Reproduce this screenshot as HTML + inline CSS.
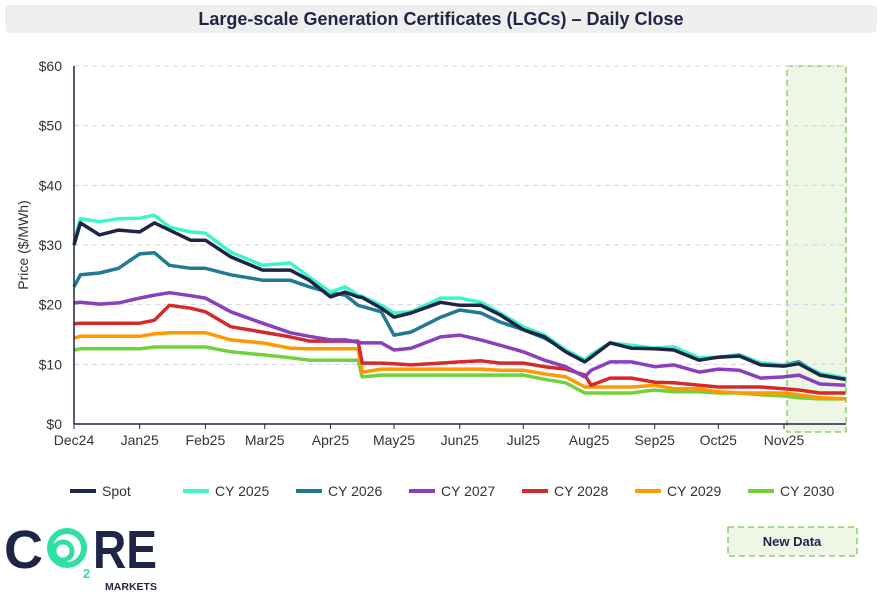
<!DOCTYPE html>
<html><head><meta charset="utf-8">
<style>
body{margin:0;background:#fff;font-family:"Liberation Sans",Arial,sans-serif;}
#wrap{position:relative;width:883px;height:600px;overflow:hidden;}
</style></head>
<body>
<div id="wrap">
<svg id="chart" width="883" height="600" xmlns="http://www.w3.org/2000/svg">
  <rect x="5" y="5" width="872" height="28" rx="5" fill="#efefef"/>
  <text x="441" y="25" text-anchor="middle" font-size="18" font-weight="bold" fill="#1f2547">Large-scale Generation Certificates (LGCs) – Daily Close</text>
  <text transform="translate(28,245) rotate(-90)" text-anchor="middle" font-size="14" fill="#333">Price ($/MWh)</text>
  <rect x="787" y="66" width="59" height="366" fill="#eef7e6" stroke="#7cc653" stroke-width="1.3" stroke-dasharray="6,4"/>
  <g id="grid"></g>
  <g id="series"></g>
  <g id="axes"></g>
  <g id="legend"></g>
  <rect x="728" y="527" width="129" height="29" fill="#eef7e6" stroke="#7cc653" stroke-width="1.3" stroke-dasharray="6,4"/>
  <text x="792" y="546" text-anchor="middle" font-size="13" font-weight="bold" fill="#1f2547">New Data</text>
  <g>
    <text x="4" y="568" font-size="54" font-weight="bold" fill="#1f2547">C</text>
    <circle cx="67" cy="548" r="17" fill="none" stroke="#2ee0a5" stroke-width="6"/>
    <circle cx="63" cy="551" r="9" fill="none" stroke="#2ee0a5" stroke-width="5"/>
    <text x="83" y="578" font-size="13" font-weight="bold" fill="#2ee0a5">2</text>
    <text x="93" y="568" font-size="54" font-weight="bold" fill="#1f2547" textLength="64" lengthAdjust="spacingAndGlyphs">RE</text>
    <text x="105" y="590" font-size="10.5" font-weight="bold" fill="#1f2547" textLength="52">MARKETS</text>
  </g>
</svg>
</div>
<script>
const days = [0,3,12,21,31,38,45,55,62,74,89,102,111,121,128,134,136,145,151,159,173,182,192,201,212,222,232,241,244,253,263,274,283,295,304,314,324,335,342,352,364];
const spot   = [30,33.7,31.7,32.5,32.2,33.7,32.5,30.8,30.8,28,25.8,25.8,24.1,21.3,22.1,21.3,21.2,19.4,17.9,18.6,20.4,19.9,19.9,18.3,15.8,14.6,12.1,10.4,11.2,13.6,12.7,12.6,12.4,10.7,11.2,11.4,9.9,9.7,10.1,8.2,7.5];
const cy2025 = [30.5,34.4,33.9,34.4,34.5,35.0,33.0,32.2,32.0,28.8,26.6,27.0,24.6,22.1,23.0,21.6,21.4,19.9,18.6,18.8,21.1,21.1,20.4,18.6,16.3,14.9,12.4,10.7,11.6,13.6,13.2,12.7,12.9,11.1,11.2,11.6,10.2,9.9,10.2,8.5,7.7];
const cy2026 = [23,25,25.3,26.1,28.5,28.7,26.6,26.1,26.1,25,24.1,24.1,23,22,21.6,19.9,19.7,18.8,14.9,15.4,17.9,19.1,18.6,17.1,15.8,14.4,12.4,10.7,11.6,13.6,12.9,12.7,12.9,10.9,11.2,11.6,10.2,9.9,10.4,8.2,7.5];
const cy2027 = [20.3,20.4,20.1,20.3,21.1,21.6,22,21.5,21.1,18.8,16.9,15.3,14.7,14.1,14.1,13.7,13.6,13.6,12.4,12.7,14.6,14.9,14.1,13.2,12.1,10.7,9.6,7.9,9,10.4,10.4,9.6,9.9,8.7,9.2,9,7.7,7.9,8.2,6.7,6.5];
const cy2028 = [16.8,16.9,16.9,16.9,16.9,17.4,19.9,19.4,18.8,16.3,15.4,14.6,13.9,13.9,13.9,13.9,10.2,10.2,10.1,9.9,10.2,10.4,10.6,10.2,10.2,9.6,9.2,8.2,6.5,7.7,7.7,7,6.9,6.5,6.2,6.2,6.2,5.9,5.7,5.2,5.2];
const cy2029 = [14.4,14.7,14.7,14.7,14.7,15.1,15.3,15.3,15.3,14.1,13.6,12.7,12.6,12.6,12.6,12.6,8.7,9.2,9.2,9.2,9.2,9.2,9.2,9.0,9.0,8.4,7.9,6.2,6.2,6.2,6.2,6.5,5.9,5.9,5.4,5.2,5.2,5.2,4.9,4.4,4.2];
const cy2030 = [12.4,12.6,12.6,12.6,12.6,12.9,12.9,12.9,12.9,12.1,11.6,11.1,10.7,10.7,10.7,10.7,7.9,8.2,8.2,8.2,8.2,8.2,8.2,8.2,8.2,7.5,6.9,5.2,5.2,5.2,5.2,5.7,5.4,5.4,5.2,5.2,4.9,4.7,4.4,4.2,4.2];
const yTicks = [0,10,20,30,40,50,60];
const xLabels = ["Dec24","Jan25","Feb25","Mar25","Apr25","May25","Jun25","Jul25","Aug25","Sep25","Oct25","Nov25"];
const xLabelDays = [0,31,62,90,121,151,182,212,243,274,304,335];
const seriesNames = ["Spot","CY 2025","CY 2026","CY 2027","CY 2028","CY 2029","CY 2030"];
const seriesData = [spot,cy2025,cy2026,cy2027,cy2028,cy2029,cy2030];
const colors = ["#1f2547","#3cf5c8","#217a94","#8a3fbf","#d42a2a","#ff9900","#72d03c"];

const NS="http://www.w3.org/2000/svg";
const X0=74, X1=846, Y0=424, Y1=66;
function xs(d){return X0 + d*(784-74)/335;}
function ys(v){return Y0 - v*(Y0-Y1)/60;}
function mk(tag,attrs,parent){const e=document.createElementNS(NS,tag);for(const k in attrs)e.setAttribute(k,attrs[k]);parent.appendChild(e);return e;}
const grid=document.getElementById('grid'), axes=document.getElementById('axes'), ser=document.getElementById('series'), leg=document.getElementById('legend');
yTicks.forEach(v=>{
  if(v>0){const l=mk('line',{x1:X0,x2:X1,y1:ys(v),y2:ys(v),stroke:'#d3d3e6','stroke-dasharray':'5,4','stroke-width':1},grid);
  
  }
  const t=mk('text',{x:62,y:ys(v)+5,'text-anchor':'end','font-size':14,fill:'#333'},axes);
  t.textContent='$'+v;
  
  
});
const ax=mk('line',{x1:X0,x2:X0,y1:Y1,y2:Y0,stroke:'#1f2547','stroke-width':1.5},axes);


const bx=mk('line',{x1:X0,x2:X1,y1:Y0,y2:Y0,stroke:'#1f2547','stroke-width':1.5},axes);


xLabels.forEach((lab,i)=>{
  const x=xs(xLabelDays[i]);
  const tk=mk('line',{x1:x,x2:x,y1:Y0,y2:Y0+5,stroke:'#1f2547','stroke-width':1},axes);
  
  
  const t=mk('text',{x:x,y:445,'text-anchor':'middle','font-size':14,fill:'#333'},axes);
  t.textContent=lab;
  
  
});
for(let s=seriesData.length-1;s>=0;s--){
  const pts=days.map((d,i)=>xs(d).toFixed(1)+','+ys(seriesData[s][i]).toFixed(1)).join(' ');
  const p=mk('polyline',{points:pts,fill:'none',stroke:colors[s],'stroke-width':3.5,'stroke-linejoin':'round'},ser);
  
  
}
const legX=[70,183,296,409,522,635,748];
seriesNames.forEach((n,i)=>{
  const g=mk('g',{},leg);
  
  
  mk('line',{x1:legX[i],x2:legX[i]+26,y1:491,y2:491,stroke:colors[i],'stroke-width':4},g);
  const t=mk('text',{x:legX[i]+32,y:496,'font-size':14,fill:'#333'},g);
  t.textContent=n;
});
</script>
</body></html>
